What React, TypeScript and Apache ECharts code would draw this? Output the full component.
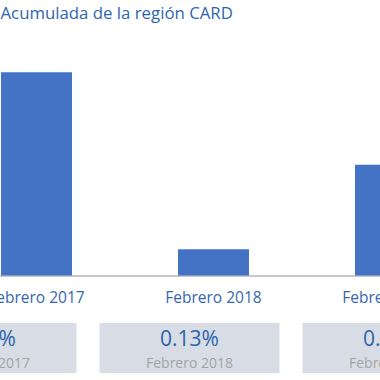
import React, { useEffect, useRef } from "react";
import * as echarts from "echarts";

const titleText = "Acumulada de la región CARD";
const categories = ["Febrero 2017", "Febrero 2018", "Febrero 2019"];
const values = [1.01, 0.13, 0.55];
const boxValues = ["1.01%", "0.13%", "0.55%"];
const boxLabels = ["Febrero 2017", "Febrero 2018", "Febrero 2019"];

const OFF = 52.5;
const W = 531;

export default function App() {
  const ref = useRef<HTMLDivElement>(null);
  useEffect(() => {
    if (!ref.current) return;
    const chart = echarts.init(ref.current, null, { renderer: "svg" });
    const font = "'Open Sans', sans-serif";
    const graphics: any[] = [];
    boxValues.forEach((v, i) => {
      const x = -104 + i * 203 + OFF;
      graphics.push({
        type: "rect",
        shape: { x, y: 323, width: 180, height: 50 },
        style: { fill: "#d8dde5" },
        silent: true,
      });
      graphics.push({
        type: "text",
        x: x + 90,
        y: 338,
        style: {
          text: v,
          fill: "#2c63ad",
          font: `21px ${font}`,
          textAlign: "center",
          textVerticalAlign: "middle",
        },
      });
      graphics.push({
        type: "text",
        x: x + 90,
        y: 362,
        style: {
          text: boxLabels[i],
          fill: "#a3a3a3",
          font: `14px ${font}`,
          textAlign: "center",
          textVerticalAlign: "middle",
        },
      });
    });
    graphics.push({
      type: "text",
      x: OFF,
      y: 12,
      style: {
        text: titleText,
        fill: "#2e66b0",
        font: `16.8px ${font}`,
        textAlign: "left",
        textVerticalAlign: "middle",
      },
    });
    chart.setOption({
      animation: false,
      grid: { left: 0, right: 0, top: 34, bottom: 104.5, containLabel: false },
      xAxis: {
        type: "category",
        data: categories,
        axisTick: { show: false },
        axisLine: { show: true, lineStyle: { color: "#b5b5b5", width: 1.5 } },
        axisLabel: {
          color: "#3567ae",
          fontSize: 15.5,
          fontFamily: "Open Sans",
          margin: 13,
          interval: 0,
        },
      },
      yAxis: {
        type: "value",
        min: 0,
        max: 1.2,
        show: false,
        splitLine: { show: false },
      },
      series: [
        {
          type: "bar",
          data: values,
          barWidth: 71,
          itemStyle: { color: "#4472c4" },
        },
      ],
      graphic: graphics,
    });
    return () => chart.dispose();
  }, []);
  return (
    <div style={{ position: "absolute", left: 0, top: 0, width: 380, height: 380, overflow: "hidden" }}>
      <div ref={ref} style={{ position: "absolute", left: -OFF, top: 0, width: W, height: 380 }} />
    </div>
  );
}
